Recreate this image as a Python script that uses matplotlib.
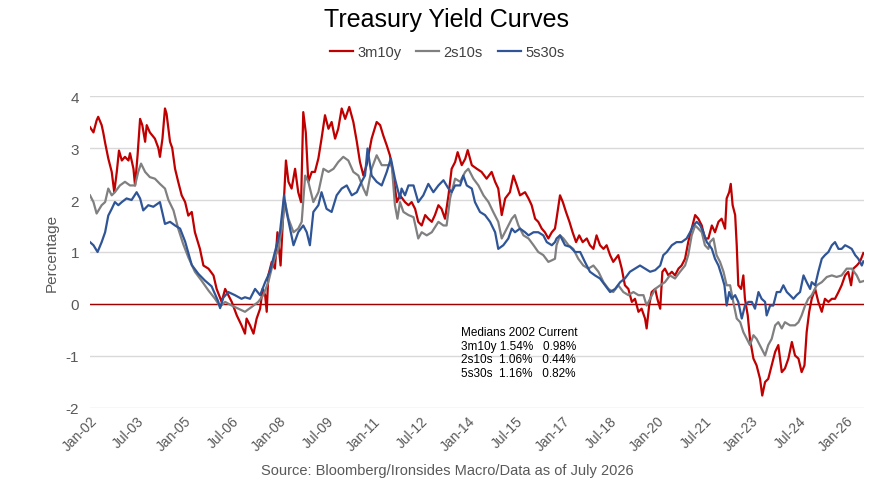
import matplotlib.pyplot as plt

# Data (decimal years, percentage points)
######################################################################
red_t = [2002.00, 2002.11, 2002.21, 2002.26, 2002.37, 2002.42, 2002.48, 2002.58, 2002.69, 2002.77,
         2002.85, 2002.92, 2003.01, 2003.11, 2003.22, 2003.27, 2003.38, 2003.43, 2003.51, 2003.59,
         2003.66, 2003.75, 2003.80, 2003.90, 2004.06, 2004.17, 2004.22, 2004.30, 2004.38, 2004.43,
         2004.54, 2004.61, 2004.70, 2004.80, 2004.91, 2005.02, 2005.12, 2005.23, 2005.33, 2005.49,
         2005.60, 2005.76, 2005.92, 2006.02, 2006.18, 2006.29, 2006.39, 2006.50, 2006.66, 2006.81,
         2006.92, 2006.97, 2007.08, 2007.19, 2007.29, 2007.40, 2007.48, 2007.56, 2007.61, 2007.66,
         2007.77, 2007.87, 2007.95, 2008.05, 2008.12, 2008.22, 2008.30, 2008.40, 2008.51, 2008.61,
         2008.70, 2008.77, 2008.85, 2008.93, 2009.04, 2009.14, 2009.25, 2009.35, 2009.46, 2009.57,
         2009.67, 2009.78, 2009.88, 2009.99, 2010.10, 2010.23, 2010.36, 2010.47, 2010.57, 2010.68,
         2010.78, 2010.94, 2011.10, 2011.21, 2011.31, 2011.42, 2011.52, 2011.63, 2011.74, 2011.84,
         2012.00, 2012.11, 2012.21, 2012.32, 2012.42, 2012.53, 2012.64, 2012.74, 2012.85, 2012.95,
         2013.06, 2013.16, 2013.27, 2013.38, 2013.48, 2013.59, 2013.67, 2013.80, 2013.91, 2013.99,
         2014.12, 2014.28, 2014.43, 2014.59, 2014.75, 2014.86, 2014.96, 2015.07, 2015.18, 2015.33,
         2015.44, 2015.55, 2015.65, 2015.81, 2015.92, 2016.02, 2016.13, 2016.23, 2016.34, 2016.44,
         2016.55, 2016.66, 2016.76, 2016.81, 2016.92, 2017.01, 2017.11, 2017.22, 2017.32, 2017.43,
         2017.53, 2017.64, 2017.77, 2017.87, 2017.98, 2018.08, 2018.19, 2018.30, 2018.40, 2018.51,
         2018.61, 2018.77, 2018.88, 2018.98, 2019.09, 2019.20, 2019.30, 2019.41, 2019.51, 2019.62,
         2019.67, 2019.75, 2019.83, 2019.94, 2020.01, 2020.10, 2020.17, 2020.25, 2020.36, 2020.47,
         2020.57, 2020.68, 2020.78, 2020.89, 2020.99, 2021.10, 2021.21, 2021.31, 2021.42, 2021.52,
         2021.63, 2021.74, 2021.84, 2021.95, 2022.05, 2022.16, 2022.21, 2022.29, 2022.34, 2022.40,
         2022.48, 2022.53, 2022.58, 2022.67, 2022.74, 2022.79, 2022.88, 2022.95, 2023.06, 2023.16,
         2023.27, 2023.34, 2023.43, 2023.53, 2023.64, 2023.75, 2023.85, 2023.96, 2024.06, 2024.17,
         2024.28, 2024.38, 2024.49, 2024.59, 2024.68, 2024.75, 2024.83, 2024.91, 2025.02, 2025.12,
         2025.23, 2025.33, 2025.44, 2025.55, 2025.65, 2025.76, 2025.86, 2025.97, 2026.07, 2026.16,
         2026.23, 2026.34, 2026.44, 2026.55]
red_v = [3.40, 3.30, 3.53, 3.60, 3.44, 3.30, 3.10, 2.80, 2.54, 2.15,
         2.54, 2.95, 2.76, 2.83, 2.76, 2.90, 2.60, 2.28, 2.86, 3.56,
         3.44, 3.12, 3.44, 3.30, 3.18, 3.00, 2.83, 3.18, 3.76, 3.66,
         3.12, 3.00, 2.60, 2.35, 2.09, 1.96, 1.70, 1.77, 1.38, 1.06,
         0.74, 0.68, 0.55, 0.29, 0.04, 0.29, 0.17, 0.04, -0.22, -0.41,
         -0.57, -0.28, -0.41, -0.57, -0.28, -0.09, 0.29, 0.17, -0.15, 0.55,
         0.81, 0.68, 1.38, 0.74, 1.58, 2.76, 2.35, 2.22, 2.60, 2.15,
         1.96, 3.69, 3.30, 2.35, 2.54, 2.54, 2.80, 3.18, 3.63, 3.37,
         3.50, 3.18, 3.37, 3.76, 3.56, 3.79, 3.50, 3.12, 2.73, 2.47,
         2.67, 3.18, 3.50, 3.44, 3.24, 3.05, 2.86, 2.47, 1.96, 2.09,
         1.96, 1.90, 1.96, 1.83, 1.58, 1.51, 1.71, 1.64, 1.58, 1.71,
         1.90, 1.83, 1.64, 2.09, 2.60, 2.73, 2.92, 2.67, 2.79, 2.96,
         2.67, 2.60, 2.54, 2.41, 2.54, 2.35, 2.22, 1.71, 2.03, 2.15,
         2.47, 2.28, 2.09, 2.15, 2.03, 1.90, 1.64, 1.58, 1.45, 1.38,
         1.26, 1.38, 1.45, 1.64, 2.09, 1.96, 1.77, 1.58, 1.38, 1.19,
         1.32, 1.19, 1.26, 1.13, 1.06, 1.32, 1.13, 1.06, 1.13, 0.94,
         0.81, 0.94, 0.68, 0.36, 0.29, 0.04, 0.10, -0.15, -0.09, -0.28,
         -0.47, -0.03, 0.23, 0.29, 0.10, -0.09, 0.62, 0.68, 0.55, 0.62,
         0.55, 0.68, 0.74, 0.87, 1.19, 1.45, 1.71, 1.64, 1.51, 1.26,
         1.26, 1.51, 1.38, 1.58, 1.64, 1.45, 2.03, 2.15, 2.31, 1.90,
         1.71, 1.13, 0.36, 0.29, 0.55, 0.10, -0.22, -0.67, -1.05, -1.18,
         -1.44, -1.76, -1.50, -1.44, -1.18, -0.92, -0.79, -1.31, -1.24, -1.05,
         -0.73, -0.99, -1.05, -1.31, -1.18, -0.54, -0.15, 0.10, 0.29, 0.04,
         -0.15, 0.10, 0.04, 0.10, 0.10, 0.23, 0.36, 0.55, 0.62, 0.36,
         0.68, 0.74, 0.81, 0.98]

gray_t = [2002.00, 2002.11, 2002.21, 2002.37, 2002.48, 2002.58, 2002.69, 2002.79, 2002.95, 2003.11,
          2003.27, 2003.43, 2003.53, 2003.62, 2003.75, 2003.90, 2004.06, 2004.22, 2004.38, 2004.49,
          2004.65, 2004.80, 2004.96, 2005.12, 2005.33, 2005.54, 2005.76, 2005.97, 2006.13, 2006.29,
          2006.50, 2006.71, 2006.92, 2007.19, 2007.34, 2007.50, 2007.66, 2007.82, 2007.98, 2008.09,
          2008.19, 2008.30, 2008.46, 2008.61, 2008.72, 2008.83, 2008.93, 2009.09, 2009.25, 2009.41,
          2009.57, 2009.73, 2009.88, 2010.04, 2010.20, 2010.36, 2010.52, 2010.68, 2010.78, 2010.94,
          2011.10, 2011.26, 2011.42, 2011.58, 2011.68, 2011.76, 2011.84, 2011.95, 2012.11, 2012.27,
          2012.42, 2012.53, 2012.69, 2012.85, 2013.06, 2013.22, 2013.32, 2013.43, 2013.59, 2013.75,
          2013.91, 2014.01, 2014.17, 2014.33, 2014.49, 2014.65, 2014.80, 2014.96, 2015.07, 2015.23,
          2015.39, 2015.49, 2015.60, 2015.76, 2015.92, 2016.08, 2016.23, 2016.39, 2016.55, 2016.66,
          2016.76, 2016.81, 2016.92, 2017.03, 2017.19, 2017.34, 2017.50, 2017.66, 2017.82, 2017.98,
          2018.14, 2018.30, 2018.46, 2018.61, 2018.77, 2018.93, 2019.09, 2019.25, 2019.41, 2019.57,
          2019.67, 2019.78, 2019.94, 2020.10, 2020.25, 2020.41, 2020.57, 2020.73, 2020.89, 2020.99,
          2021.10, 2021.21, 2021.31, 2021.42, 2021.52, 2021.63, 2021.68, 2021.79, 2021.89, 2022.00,
          2022.11, 2022.21, 2022.32, 2022.42, 2022.53, 2022.64, 2022.74, 2022.85, 2022.95, 2023.06,
          2023.16, 2023.32, 2023.43, 2023.53, 2023.64, 2023.75, 2023.85, 2023.96, 2024.06, 2024.22,
          2024.38, 2024.49, 2024.59, 2024.70, 2024.80, 2024.91, 2025.07, 2025.23, 2025.39, 2025.55,
          2025.70, 2025.86, 2026.02, 2026.18, 2026.34, 2026.44, 2026.55]
gray_v = [2.09, 1.96, 1.74, 1.90, 1.96, 2.22, 2.09, 2.15, 2.28, 2.35,
          2.28, 2.28, 2.54, 2.70, 2.54, 2.44, 2.41, 2.31, 2.22, 2.00,
          1.80, 1.45, 1.15, 0.90, 0.62, 0.45, 0.26, 0.10, -0.05, 0.04,
          -0.03, -0.09, -0.15, -0.03, 0.04, 0.17, 0.42, 0.81, 1.06, 1.45,
          1.96, 1.64, 1.38, 1.45, 1.58, 2.47, 2.35, 1.96, 2.15, 2.60,
          2.54, 2.60, 2.73, 2.83, 2.76, 2.54, 2.47, 2.22, 2.09, 2.60,
          2.86, 2.67, 2.67, 2.67, 1.90, 1.64, 1.96, 1.77, 1.71, 1.67,
          1.26, 1.38, 1.32, 1.38, 1.58, 1.51, 1.51, 2.03, 2.41, 2.35,
          2.54, 2.60, 2.41, 2.28, 2.09, 1.96, 1.77, 1.58, 1.26, 1.45,
          1.64, 1.71, 1.51, 1.32, 1.26, 1.13, 1.00, 0.94, 0.81, 0.84,
          0.87, 1.13, 1.32, 1.26, 1.13, 1.06, 0.87, 0.74, 0.68, 0.74,
          0.62, 0.42, 0.29, 0.23, 0.36, 0.23, 0.17, 0.23, 0.17, 0.17,
          -0.03, 0.10, 0.29, 0.36, 0.42, 0.55, 0.49, 0.62, 0.74, 0.94,
          1.32, 1.51, 1.45, 1.38, 1.13, 1.06, 1.19, 1.26, 0.94, 0.81,
          0.62, 0.36, 0.36, 0.04, -0.28, -0.35, -0.54, -0.67, -0.79, -0.60,
          -0.67, -0.86, -0.99, -0.79, -0.67, -0.41, -0.35, -0.47, -0.35, -0.41,
          -0.41, -0.35, -0.22, -0.03, 0.10, 0.17, 0.36, 0.42, 0.52, 0.55,
          0.52, 0.55, 0.68, 0.68, 0.55, 0.42, 0.44]

blue_t = [2002.00, 2002.11, 2002.24, 2002.37, 2002.48, 2002.58, 2002.69, 2002.79, 2002.90, 2003.01,
          2003.16, 2003.32, 2003.48, 2003.59, 2003.69, 2003.85, 2004.01, 2004.22, 2004.38, 2004.54,
          2004.70, 2004.86, 2005.02, 2005.23, 2005.44, 2005.65, 2005.86, 2006.07, 2006.13, 2006.23,
          2006.39, 2006.60, 2006.81, 2006.92, 2007.08, 2007.24, 2007.40, 2007.56, 2007.71, 2007.87,
          2008.03, 2008.16, 2008.24, 2008.35, 2008.46, 2008.61, 2008.77, 2008.88, 2008.98, 2009.09,
          2009.25, 2009.35, 2009.51, 2009.67, 2009.83, 2009.99, 2010.15, 2010.31, 2010.47, 2010.62,
          2010.73, 2010.81, 2010.94, 2011.10, 2011.26, 2011.42, 2011.55, 2011.68, 2011.84, 2011.89,
          2012.00, 2012.11, 2012.27, 2012.42, 2012.58, 2012.74, 2012.90, 2013.06, 2013.22, 2013.38,
          2013.48, 2013.59, 2013.75, 2013.85, 2013.96, 2014.12, 2014.22, 2014.38, 2014.54, 2014.70,
          2014.86, 2014.96, 2015.12, 2015.28, 2015.39, 2015.49, 2015.65, 2015.81, 2015.92, 2016.08,
          2016.23, 2016.39, 2016.50, 2016.66, 2016.76, 2016.81, 2016.92, 2017.08, 2017.24, 2017.40,
          2017.56, 2017.71, 2017.87, 2018.03, 2018.19, 2018.35, 2018.51, 2018.67, 2018.83, 2018.98,
          2019.14, 2019.30, 2019.46, 2019.62, 2019.78, 2019.94, 2020.10, 2020.20, 2020.31, 2020.47,
          2020.62, 2020.78, 2020.94, 2021.05, 2021.15, 2021.26, 2021.37, 2021.47, 2021.58, 2021.66,
          2021.74, 2021.84, 2021.95, 2022.05, 2022.14, 2022.21, 2022.29, 2022.37, 2022.48, 2022.58,
          2022.69, 2022.79, 2022.90, 2023.01, 2023.11, 2023.22, 2023.32, 2023.43, 2023.48, 2023.59,
          2023.69, 2023.80, 2023.91, 2024.01, 2024.12, 2024.22, 2024.33, 2024.43, 2024.54, 2024.65,
          2024.75, 2024.86, 2024.91, 2025.02, 2025.12, 2025.23, 2025.33, 2025.44, 2025.55, 2025.65,
          2025.76, 2025.86, 2025.97, 2026.07, 2026.18, 2026.29, 2026.39, 2026.50, 2026.55]
blue_v = [1.19, 1.13, 1.00, 1.19, 1.38, 1.70, 1.83, 1.96, 1.90, 1.96,
          2.03, 2.00, 2.15, 2.03, 1.80, 1.90, 1.87, 1.96, 1.54, 1.58,
          1.51, 1.45, 1.20, 0.75, 0.58, 0.45, 0.34, 0.05, -0.08, 0.12,
          0.23, 0.17, 0.10, 0.13, 0.10, 0.29, 0.17, 0.42, 0.62, 1.00,
          1.38, 2.09, 1.77, 1.45, 1.13, 1.38, 1.51, 1.38, 1.13, 1.77,
          1.90, 2.15, 1.83, 1.77, 2.09, 2.22, 2.28, 2.09, 2.15, 2.35,
          2.47, 2.99, 2.47, 2.35, 2.28, 2.54, 2.80, 2.41, 2.03, 2.22,
          2.09, 2.28, 2.28, 1.96, 2.09, 2.31, 2.15, 2.28, 2.38, 2.22,
          2.15, 2.28, 2.28, 2.47, 2.28, 2.22, 1.96, 1.77, 1.71, 1.58,
          1.38, 1.06, 1.13, 1.26, 1.45, 1.38, 1.45, 1.38, 1.32, 1.38,
          1.38, 1.32, 1.19, 1.13, 1.19, 1.26, 1.32, 1.13, 1.10, 1.00,
          1.00, 0.81, 0.62, 0.55, 0.49, 0.36, 0.23, 0.29, 0.42, 0.49,
          0.62, 0.68, 0.74, 0.68, 0.62, 0.65, 0.74, 0.94, 1.00, 1.13,
          1.19, 1.19, 1.26, 1.38, 1.51, 1.58, 1.51, 1.38, 1.19, 1.13,
          1.06, 0.87, 0.74, 0.55, 0.36, -0.03, 0.23, 0.10, 0.17, 0.04,
          -0.28, -0.03, 0.04, 0.04, -0.09, 0.23, 0.10, 0.04, -0.22, -0.03,
          -0.03, 0.23, 0.23, 0.36, 0.23, 0.17, 0.10, 0.17, 0.23, 0.55,
          0.42, 0.29, 0.42, 0.36, 0.62, 0.87, 0.94, 1.00, 1.13, 1.19,
          1.06, 1.06, 1.13, 1.10, 1.06, 0.94, 0.87, 0.74, 0.82]

series_names = ['3m10y', '2s10s', '5s30s']
series_colors = ['#C00000', '#808080', '#2F5597']

tick_pos = [2002.0 + 1.5 * i for i in range(17)]
tick_labels = ['Jan-02', 'Jul-03', 'Jan-05', 'Jul-06', 'Jan-08', 'Jul-09', 'Jan-11', 'Jul-12', 'Jan-14',
               'Jul-15', 'Jan-17', 'Jul-18', 'Jan-20', 'Jul-21', 'Jan-23', 'Jul-24', 'Jan-26']

medians_text = ('Medians 2002 Current\n'
                '3m10y 1.54%   0.98%\n'
                '2s10s  1.06%   0.44%\n'
                '5s30s  1.16%   0.82%')
######################################################################

plt.rcParams['font.family'] = ['Liberation Sans Narrow', 'Liberation Sans', 'DejaVu Sans']

fig = plt.figure(figsize=(8.94, 4.89), dpi=100)
ax = fig.add_axes([90 / 894, 1 - 409 / 489, 774 / 894, 312 / 489])

for t, v, name, col in zip([red_t, gray_t, blue_t], [red_v, gray_v, blue_v], series_names, series_colors):
    ax.plot(t, v, color=col, lw=1.6, label=name, zorder=3)

# zero line in dark red
ax.axhline(0, color='#A00000', lw=1.0, zorder=2)

ax.set_xlim(2002.0, 2026.57)
ax.set_ylim(-2, 4)
ax.set_yticks([-2, -1, 0, 1, 2, 3, 4])
ax.set_yticklabels(['-2', '-1', '0', '1', '2', '3', '4'], fontsize=11, color='#595959')
ax.set_xticks(tick_pos)
ax.set_xticklabels(tick_labels, rotation=45, ha='right', rotation_mode='anchor',
                   fontsize=10, color='#595959')
ax.tick_params(axis='x', length=0, pad=4)
ax.tick_params(axis='y', length=0, pad=8)
ax.grid(axis='y', color='#D9D9D9', lw=1.0, zorder=1)
for s in ax.spines.values():
    s.set_visible(False)
ax.set_ylabel('Percentage', fontsize=11, color='#595959', labelpad=5)

ax.text(0.479, 0.262, medians_text, transform=ax.transAxes, va='top', ha='left',
        fontsize=8.5, linespacing=1.18, zorder=4)

fig.text(0.5, 1 - 20 / 489, 'Treasury Yield Curves', ha='center', va='center', fontsize=18, color='black')
fig.legend(loc='center', bbox_to_anchor=(0.5, 1 - 53 / 489), ncol=3, frameon=False, fontsize=10.5,
           handlelength=1.6, handletextpad=0.3, columnspacing=1.0, labelcolor='#404040')
fig.text(0.5, 1 - 471 / 489, 'Source: Bloomberg/Ironsides Macro/Data as of July 2026', ha='center',
         va='center', fontsize=10.5, color='#595959')

plt.savefig('out.png', dpi=100)
